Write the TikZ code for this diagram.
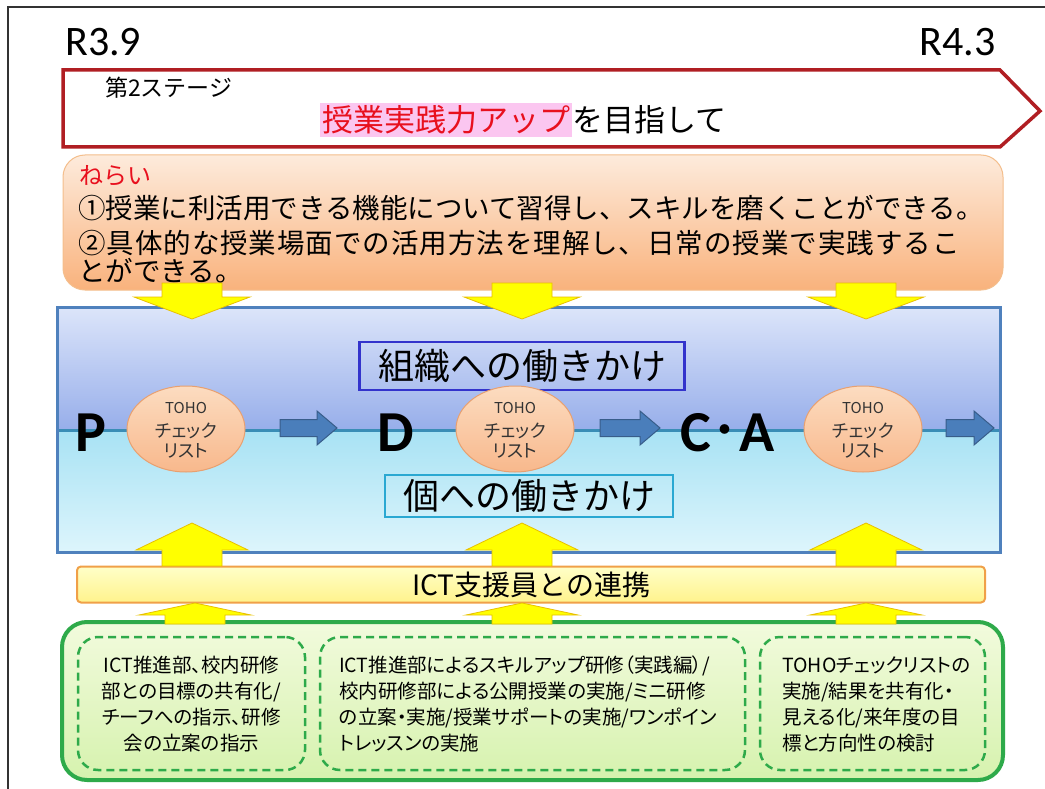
\documentclass[tikz,border=0pt]{standalone}
\usepackage{fontspec}
\setmainfont{Noto Sans CJK JP}
\newfontfamily\latf{Carlito}
\newfontfamily\jpp[RawFeature=+palt]{Noto Sans CJK JP}
\usetikzlibrary{shapes.geometric}
\definecolor{framec}{HTML}{333333}
\definecolor{chevred}{HTML}{B01E23}
\definecolor{txtred}{HTML}{E8101E}
\definecolor{hlpink}{HTML}{FBC6F0}
\definecolor{orgtop}{HTML}{FDEBDC}
\definecolor{orgbot}{HTML}{F9B27C}
\definecolor{orgline}{HTML}{F4BE8C}
\definecolor{bandblue}{HTML}{4F81BD}
\definecolor{bluetop}{HTML}{DCE5FA}
\definecolor{bluemid}{HTML}{97AEEA}
\definecolor{cyantop}{HTML}{A8E2F4}
\definecolor{cyanbot}{HTML}{DDF5FC}
\definecolor{midline}{HTML}{3A8DB6}
\definecolor{orgboxc}{HTML}{3333CC}
\definecolor{indboxc}{HTML}{2AA8D2}
\definecolor{circtop}{HTML}{FCDCC0}
\definecolor{circbot}{HTML}{F8B88C}
\definecolor{circline}{HTML}{E8A070}
\definecolor{arrblue}{HTML}{4A7EBB}
\definecolor{arrblueline}{HTML}{385D8A}
\definecolor{ylw}{HTML}{FFFF00}
\definecolor{ylwline}{HTML}{E8C000}
\definecolor{icttop}{HTML}{FFFFC8}
\definecolor{ictbot}{HTML}{FFF38C}
\definecolor{ictline}{HTML}{F0A048}
\definecolor{grn}{HTML}{2EAA4A}
\definecolor{grntop}{HTML}{F2FBDD}
\definecolor{grnbot}{HTML}{D6F2AE}
\definecolor{circtxt}{HTML}{333333}
\newcommand\barrowshape[3]{\draw[barr] (#1,#3-8.5) -- (#2-20,#3-8.5) -- (#2-20,#3-17) -- (#2,#3) -- (#2-20,#3+17) -- (#2-20,#3+8.5) -- (#1,#3+8.5) -- cycle;}
\newcommand\yarrowshape[5]{\draw[yarr] (#1-30,#2) -- (#1-30,#3) -- (#1-#5,#3) -- (#1,#4) -- (#1+#5,#3) -- (#1+30,#3) -- (#1+30,#2) -- cycle;}
\begin{document}
\begin{tikzpicture}[x=1pt,y=-1pt,
  barr/.style={fill=arrblue,draw=arrblueline,line width=1pt,line join=miter},
  yarr/.style={fill=ylw,draw=ylwline,line width=0.8pt,line join=miter},
  circnode/.style={ellipse,minimum width=118pt,minimum height=86pt,inner sep=0pt,top color=circtop,bottom color=circbot,draw=circline,line width=1pt},
  circsmall/.style={text=circtxt,inner sep=0pt,font=\fontsize{15}{15}\selectfont\jpp},
  circbig/.style={text=circtxt,inner sep=0pt,font=\fontsize{18}{18}\selectfont\jpp},
  pdca/.style={inner sep=0pt,font=\fontsize{58}{58}\selectfont\latf\bfseries},
  dbox/.style={draw=grn,line width=2.5pt,dash pattern=on 8pt off 5pt,rounded corners=20pt,minimum height=133pt,inner sep=0pt},
  dtext/.style={inner sep=0pt,font=\fontsize{19.5}{26}\selectfont\jpp}]
\useasboundingbox (0,0) rectangle (1045,789);
\fill[white] (0,0) rectangle (1045,789);
\draw[framec,line width=1.6pt] (8,789) -- (8,7) -- (1045,7);
% dates
\node[anchor=base west,inner sep=0pt,font=\fontsize{42}{42}\selectfont\latf] (r39) at (65,56) {R3.9};
\node[anchor=base east,inner sep=0pt,font=\fontsize{42}{42}\selectfont\latf] (r43) at (996,56) {R4.3};
% chevron
\draw[chevred,line width=3.5pt,fill=white,line join=miter] (63,70) -- (1000,70) -- (1040,111) -- (1000,147) -- (63,147) -- cycle;
\node[anchor=west,inner sep=0pt,font=\fontsize{23}{23}\selectfont] (stage) at (105,88) {第2ステージ};
\node[anchor=west,inner xsep=2pt,inner ysep=2pt,fill=hlpink,text=txtred,minimum height=34pt,font=\fontsize{31}{31}\selectfont] (hl) at (320,120) {授業実践力アップ};
\node[anchor=west,inner sep=0pt,font=\fontsize{31}{31}\selectfont] (hlrest) at (hl.east) {を目指して};
% aims box
\node[draw=orgline,line width=1pt,rounded corners=22pt,top color=orgtop,bottom color=orgbot,minimum width=940pt,minimum height=135pt] (goal) at (533,222.5) {};
\node[anchor=west,inner sep=0pt,text=txtred,font=\fontsize{24}{24}\selectfont] (nerai) at (79,176) {ねらい};
\node[anchor=west,inner sep=0pt,font=\fontsize{27.5}{27.5}\selectfont] (aim1) at (78,208) {①授業に利活用できる機能について習得し、スキルを磨くことができる。};
\node[anchor=west,inner sep=0pt,font=\fontsize{27.5}{27.5}\selectfont\addfontfeatures{LetterSpace=3.5}] (aim2) at (78,243) {②具体的な授業場面での活用方法を理解し、日常の授業で実践するこ};
\node[anchor=west,inner sep=0pt,font=\fontsize{27.5}{27.5}\selectfont] (aim3) at (78,271) {とができる。};
% band
\shade[top color=bluetop,bottom color=bluemid] (57,307) rectangle (1000,430);
\shade[top color=cyantop,bottom color=cyanbot] (57,430) rectangle (1000,552);
\draw[midline,line width=3pt] (57,430) -- (1000,430);
\draw[bandblue,line width=3pt] (57,307) rectangle (1000,552);
\node[draw=orgboxc,line width=2.5pt,minimum width=325pt,minimum height=48pt,inner sep=0pt,font=\fontsize{36}{36}\selectfont] (soshiki) at (522,366) {組織への働きかけ};
\node[draw=indboxc,line width=2.5pt,minimum width=288pt,minimum height=42pt,inner sep=0pt,font=\fontsize{36}{36}\selectfont] (ko) at (529,496) {個への働きかけ};
% PDCA
\node[pdca,anchor=base west] (p) at (75,451) {P};
\node[pdca,anchor=base west] (d) at (377,451) {D};
\node[pdca,anchor=base west] (ca) at (680,451) {C{\mdseries\fontspec{Noto Sans CJK JP}･}A};
\foreach \n/\cx in {c1/186,c2/515,c3/863}{
  \node[circnode] (\n) at (\cx,429) {};
  \node[circsmall] (\n t) at ([yshift=21pt]\n.center) {TOHO};
  \node[circbig] (\n m) at ([yshift=-2pt]\n.center) {チェック};
  \node[circbig] (\n b) at ([yshift=-22pt]\n.center) {リスト};
}
\barrowshape{280}{337}{428}
\barrowshape{600}{660}{428}
\barrowshape{946}{994}{428}
% ICT
\node[draw=ictline,line width=2pt,rounded corners=4pt,top color=icttop,bottom color=ictbot,minimum width=908pt,minimum height=36pt,inner sep=0pt,font=\fontsize{28}{28}\selectfont] (ict) at (531,584.5) {ICT支援員との連携};
% green box
\node[draw=grn,line width=4pt,rounded corners=25pt,top color=grntop,bottom color=grnbot,minimum width=941pt,minimum height=158pt] (acts) at (532.5,701) {};
\node[dbox,minimum width=227pt] (d1) at (191.5,703.5) {};
\node[dbox,minimum width=425pt] (d2) at (532.5,703.5) {};
\node[dbox,minimum width=225pt] (d3) at (872.5,703.5) {};
\node[dtext,align=center] (t1) at (191.5,704) {ICT推進部、校内研修\\部との目標の共有化/\\チーフへの指示、研修\\会の立案の指示};
\node[dtext,align=left,anchor=west] (t2) at (339,704) {ICT推進部によるスキルアップ研修（実践編）/\\校内研修部による公開授業の実施/ミニ研修\\の立案・実施/授業サポートの実施/ワンポイン\\トレッスンの実施};
\node[dtext,align=left,anchor=west] (t3) at (782,704) {TOHOチェックリストの\\実施/結果を共有化・\\見える化/来年度の目\\標と方向性の検討};
% yellow arrows
\yarrowshape{192}{283}{297}{319}{58}
\yarrowshape{522}{283}{297}{319}{58}
\yarrowshape{866}{283}{297}{319}{58}
\yarrowshape{192}{566}{550}{523}{56}
\yarrowshape{522}{566}{550}{523}{56}
\yarrowshape{866}{566}{550}{523}{56}
\yarrowshape{195}{624}{615}{603}{56}
\yarrowshape{522}{624}{615}{603}{56}
\yarrowshape{866}{624}{615}{603}{56}
\end{tikzpicture}
\end{document}
